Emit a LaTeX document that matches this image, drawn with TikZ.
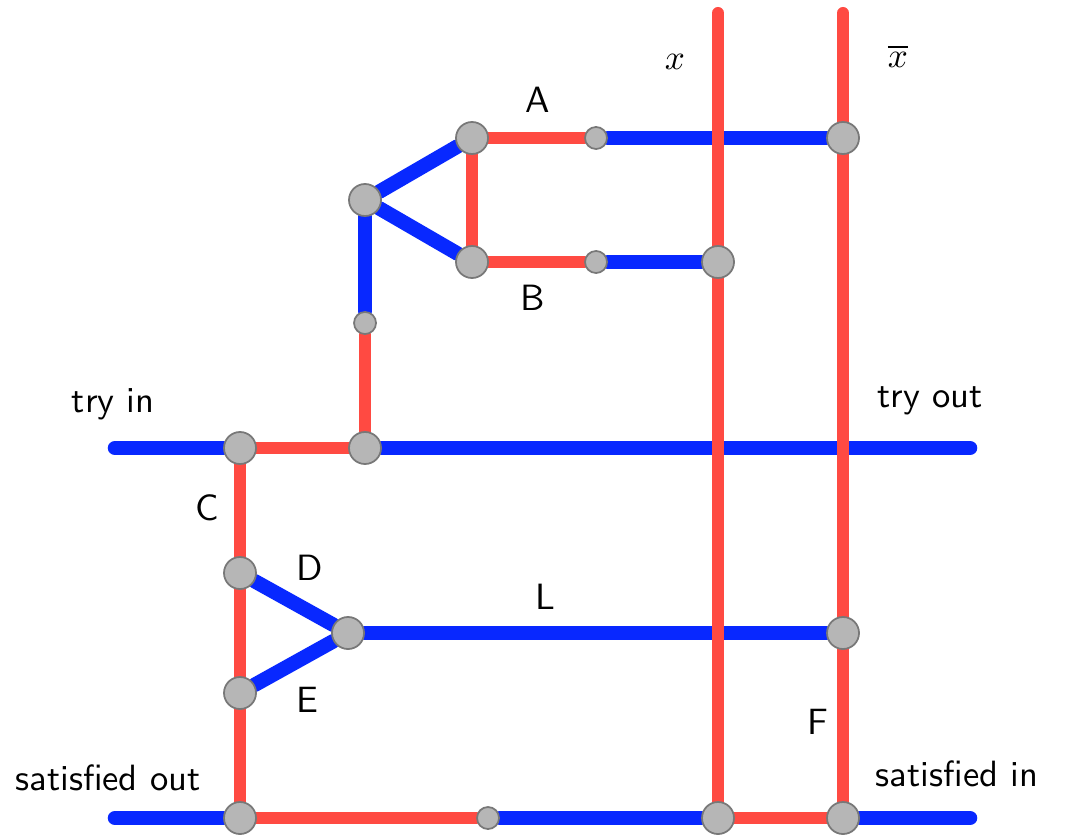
\documentclass[tikz,border=0pt]{standalone}
\usetikzlibrary{positioning, backgrounds}
\definecolor{wireblue}{RGB}{8, 40, 255}
\definecolor{wirered}{RGB}{255, 74, 66}
\definecolor{jointgray}{RGB}{182, 182, 182}
\definecolor{jointrim}{RGB}{120, 120, 120}

\begin{document}
\begin{tikzpicture}[x=0.01cm, y=-0.01cm,
    joint/.style={circle, draw=jointrim, fill=jointgray, line width=0.5pt,
                  minimum size=0.32cm, inner sep=0pt},
    smalljoint/.style={joint, minimum size=0.22cm},
    bluewire/.style={line width=0.145cm, wireblue, line cap=round},
    redwire/.style={line width=0.12cm, wirered, line cap=round},
    lbl/.style={font=\sffamily\fontsize{10.4}{12}\selectfont, inner sep=0pt}
]
\useasboundingbox (0,0) rectangle (1065,837);

% Free ends
\coordinate (tryin) at (115,448);
\coordinate (tryout) at (970,448);
\coordinate (satout) at (115,818);
\coordinate (satin) at (970,818);
\coordinate (xtop) at (718,13);
\coordinate (xbartop) at (843,13);

% Upper gadget
\node[joint] (a) at (472,138) {};
\node[smalljoint] (as) at (596,138) {};
\node[joint] (xba) at (843,138) {};
\node[joint] (apex) at (365,200) {};
\node[joint] (b) at (472,262) {};
\node[smalljoint] (bs) at (596,262) {};
\node[joint] (xb) at (718,262) {};
\node[smalljoint] (stem) at (365,323) {};

% Try line
\node[joint] (c) at (240,448) {};
\node[joint] (tap) at (365,448) {};

% Lower gadget
\node[joint] (d) at (240,573) {};
\node[joint] (e) at (240,693) {};
\node[joint] (lnode) at (348,633) {};
\node[joint] (lend) at (843,633) {};

% Satisfied line
\node[joint] (sout) at (240,818) {};
\node[smalljoint] (mid) at (488,818) {};
\node[joint] (xbot) at (718,818) {};
\node[joint] (xbbot) at (843,818) {};

% Labels
\node[lbl] (lblx) at (675,62) {$x$};
\node[lbl] (lblxbar) at (898,56) {$\overline{x}$};
\node[lbl] (lblA) at (538,100) {A};
\node[lbl] (lblB) at (533,298) {B};
\node[lbl] (lblC) at (207,508) {C};
\node[lbl] (lblD) at (310,568) {D};
\node[lbl] (lblE) at (307,700) {E};
\node[lbl] (lblL) at (545,597) {L};
\node[lbl] (lblF) at (818,722) {F};
\node[lbl] (lbltryin) at (113,404) {try in};
\node[lbl] (lbltryout) at (930,401) {try out};
\node[lbl] (lblsatout) at (108,778) {satisfied out};
\node[lbl] (lblsatin) at (957,774) {satisfied in};

% Wires
\begin{scope}[on background layer]
\foreach \p/\q in {tryin/c, tap/tryout, satout/sout, mid/xbot, xbbot/satin,
                   as/xba, bs/xb, apex/a, apex/b, apex/stem,
                   d/lnode, e/lnode, lnode/lend}
    \draw[bluewire] (\p) -- (\q);
\foreach \p/\q in {c/tap, tap/stem, a/b, a/as, b/bs, c/d, d/e, e/sout,
                   sout/mid, xbot/xbbot, xtop/xbot, xbartop/xbbot}
    \draw[redwire] (\p) -- (\q);
\end{scope}

\end{tikzpicture}
\end{document}
